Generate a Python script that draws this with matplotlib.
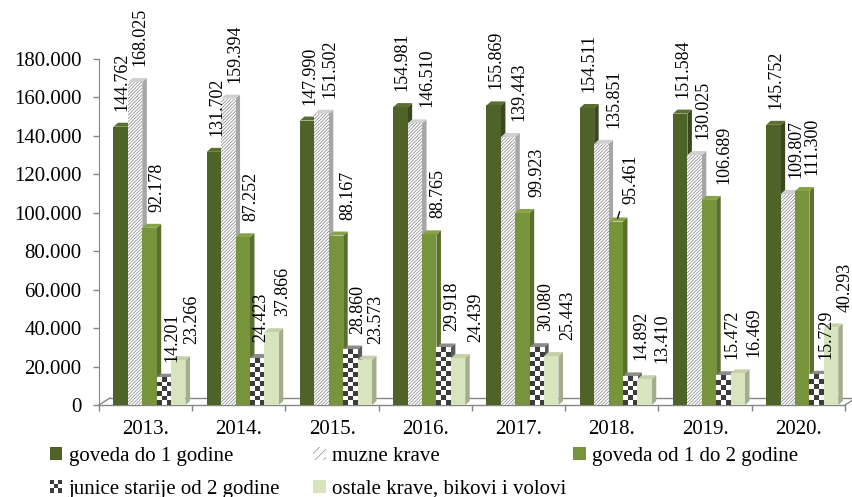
import numpy as np
import matplotlib.pyplot as plt
from matplotlib.patches import Polygon, Patch, Rectangle
from matplotlib.colors import ListedColormap
from matplotlib.ticker import FuncFormatter
from matplotlib.legend_handler import HandlerBase

plt.rcParams['font.family'] = ['Liberation Serif', 'DejaVu Serif']
plt.rcParams['hatch.linewidth'] = 0.5

# ---------------- podaci ----------------
godine = ['2013.', '2014.', '2015.', '2016.', '2017.', '2018.', '2019.', '2020.']
goveda_do_1 = [144762, 131702, 147990, 154981, 155869, 154511, 151584, 145752]
muzne_krave = [168025, 159394, 151502, 146510, 139443, 135851, 130025, 109807]
goveda_1_2 = [92178, 87252, 88167, 88765, 99923, 95461, 106689, 111300]
junice = [14201, 24423, 28860, 29918, 30080, 14892, 15472, 15729]
ostale = [23266, 37866, 23573, 24439, 25443, 13410, 16469, 40293]

nazivi = ['goveda do 1 godine', 'muzne krave', 'goveda od 1 do 2 godine',
          'junice starije od 2 godine', 'ostale krave, bikovi i volovi']
serije = [goveda_do_1, muzne_krave, goveda_1_2, junice, ostale]

# stil: (lice, bok, vrh, vrsta)
stilovi = [('#4F6228', '#3A481D', '#5B7030', 'puna'),
           ('white', '#A6A6A6', '#D0D0D0', 'crte'),
           ('#77933C', '#58702B', '#86A247', 'puna'),
           ('white', '#5A5A5A', '#8C8C8C', 'sah'),
           ('#D7E4BD', '#A3AD8E', '#C4D1A8', 'puna')]

# pomak natpisa udesno (px), po seriji i godini
natpis_dx = [[0, 1, 1, 0, 1, 0, 1, 1],
             [3, 5, 7, 11, 9, 11, 7, 7],
             [6, 7, 10, 7, 13, 12, 13, 8],
             [7, 2, 6, 7, 7, 9, 7, 8],
             [12, 10, 9, 16, 15, 16, 15, 13]]

SIVA = '#868686'
SAH = '#3C3C3C'
W_PX, H_PX = 853, 497
L_PX, R_PX, T_PX, B_PX = 99, 845, 59, 405
YMAX = 180000


def fmt(v):
    return f'{v:,}'.replace(',', '.')


class SahHandler(HandlerBase):
    # mala sahovnica za legendu
    def create_artists(self, legend, orig_handle, xdescent, ydescent, width, height, fontsize, trans):
        arts = []
        n = 3
        cw, ch = width / n, height / n
        for r in range(n):
            for c in range(n):
                col = SAH if (r + c) % 2 == 0 else 'white'
                arts.append(Rectangle((-xdescent + c * cw, -ydescent + r * ch), cw, ch,
                                      fc=col, lw=0, transform=trans))
        return arts


fig = plt.figure(figsize=(W_PX / 100, H_PX / 100), dpi=100)
ax = fig.add_axes([L_PX / W_PX, 1 - B_PX / H_PX,
                   (R_PX - L_PX) / W_PX, (B_PX - T_PX) / H_PX])

px_x = 8.0 / (R_PX - L_PX)
px_y = YMAX / (B_PX - T_PX)
bw = 14.4 * px_x
dx, dy = 4.5 * px_x, 4.0 * px_y

sah_cmap = ListedColormap(['white', SAH])

# pod (3D)
fx, fy = 11 * px_x, 7 * px_y
kw = dict(color=SIVA, lw=1, clip_on=False)
ax.plot([-0.5, 7.5], [0, 0], zorder=1, **kw)
ax.plot([-0.5, -0.5 + fx], [0, fy], zorder=0.5, **kw)
ax.plot([-0.5 + fx, 7.5 + fx], [fy, fy], zorder=0.5, **kw)
ax.plot([7.5, 7.5 + fx], [0, fy], zorder=0.5, **kw)

z = 2
for i in range(len(godine)):
    for j, (vals, st) in enumerate(zip(serije, stilovi)):
        lice, bok, vrh, vrsta = st
        h = vals[i]
        x0 = i - 0.5 + 14.5 * px_x + j * bw
        ax.add_patch(Polygon([(x0 + bw, 0), (x0 + bw + dx, dy), (x0 + bw + dx, h + dy), (x0 + bw, h)],
                             closed=True, fc=bok, ec='none', zorder=z))
        ax.add_patch(Polygon([(x0, h), (x0 + dx, h + dy), (x0 + bw + dx, h + dy), (x0 + bw, h)],
                             closed=True, fc=vrh, ec='none', zorder=z))
        if vrsta == 'crte':
            ax.bar(x0, h, width=bw, align='edge', color='white', edgecolor='#808080',
                   hatch='//////////', lw=0, zorder=z)
        elif vrsta == 'sah':
            ax.bar(x0, h, width=bw, align='edge', color='white', lw=0, zorder=z)
            n = max(1, int(round(h / px_y / 4.7)))
            uzorak = np.indices((n, 3)).sum(axis=0) % 2
            ax.imshow(uzorak, extent=(x0, x0 + bw, 0, h), aspect='auto', cmap=sah_cmap,
                      interpolation='nearest', zorder=z)
        else:
            ax.bar(x0, h, width=bw, align='edge', color=lice, lw=0, zorder=z)
        z += 1

        # natpis vrijednosti
        xc = x0 + bw / 2
        if i == 5 and j == 2:
            ax.annotate(fmt(h), xy=(x0 + bw * 0.6, h + dy * 0.5),
                        xytext=((natpis_dx[j][i] + 1.5) * 0.72, 16 * 0.72), textcoords='offset points',
                        rotation=90, ha='center', va='bottom', fontsize=13, zorder=100,
                        arrowprops=dict(arrowstyle='-', color='black', lw=1,
                                        relpos=(0.0, 0.0), shrinkA=4, shrinkB=1))
        else:
            ax.annotate(fmt(h), xy=(xc, h), xytext=((natpis_dx[j][i] + 1.5) * 0.72, 16 * 0.72),
                        textcoords='offset points', rotation=90, ha='center', va='bottom',
                        fontsize=13, zorder=100, annotation_clip=False)

ax.set_xlim(-0.5, 7.5)
ax.set_ylim(0, YMAX)

for s in ['top', 'right', 'bottom']:
    ax.spines[s].set_visible(False)
ax.spines['left'].set_color(SIVA)
ax.spines['left'].set_zorder(1)

ax.set_yticks(np.arange(0, YMAX + 1, 20000))
ax.yaxis.set_major_formatter(FuncFormatter(lambda v, p: fmt(int(v))))
ax.tick_params(axis='y', length=4.5, width=1, color=SIVA, pad=8, labelsize=15)

ax.set_xticks(np.arange(-0.5, 8, 1))
ax.set_xticklabels([])
ax.set_xticks(np.arange(len(godine)), minor=True)
ax.set_xticklabels(godine, minor=True)
ax.tick_params(axis='x', which='major', length=4, width=1, color=SIVA)
ax.tick_params(axis='x', which='minor', length=0, pad=11, labelsize=15)

# legenda
sah_rucka = Patch(facecolor='white')
rucke = [Patch(facecolor='#4F6228', lw=0),
         Patch(facecolor='white', edgecolor='#8C8C8C', hatch='////', lw=0),
         Patch(facecolor='#77933C', lw=0),
         sah_rucka,
         Patch(facecolor='#D7E4BD', lw=0)]
stupci = [([0, 3], 50), ([1, 4], 313), ([2], 573)]
for idx, xp in stupci:
    fig.legend([rucke[k] for k in idx], [nazivi[k] for k in idx], loc='upper left',
               bbox_to_anchor=(xp / W_PX, 1 - 447 / H_PX), frameon=False, fontsize=15,
               handlelength=0.6, handleheight=0.6, handletextpad=0.3, labelspacing=0.65,
               borderpad=0, borderaxespad=0, handler_map={sah_rucka: SahHandler()})

fig.savefig('out.png', dpi=100)
